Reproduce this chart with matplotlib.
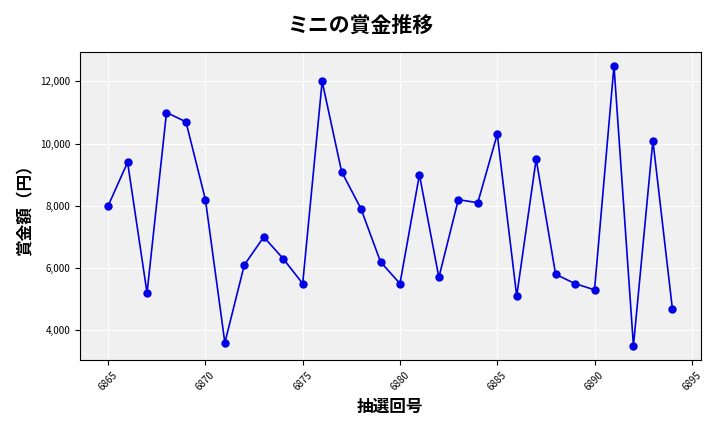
import matplotlib
matplotlib.use("Agg")
import matplotlib.pyplot as plt
from matplotlib.ticker import FuncFormatter

plt.rcParams['font.family'] = ['Noto Sans CJK JP', 'DejaVu Sans']

draws = list(range(6865, 6895))
prizes = [8000, 9400, 5200, 11000, 10700, 8200, 3600, 6100, 7000, 6300,
          5500, 12000, 9100, 7900, 6200, 5500, 9000, 5700, 8200, 8100,
          10300, 5100, 9500, 5800, 5500, 5300, 12500, 3500, 10100, 4700]

fig = plt.figure(figsize=(7.2, 4.32), dpi=100)
ax = fig.add_axes([0.111, 0.167, 0.862, 0.713])
ax.set_facecolor('#f0f0f0')
ax.grid(True, color='white', linewidth=0.8)
ax.set_axisbelow(True)
ax.plot(draws, prizes, color='#0000dd', linewidth=1.2, marker='o', markersize=5, markerfacecolor='#0000ee')
ax.set_xticks(range(6865, 6896, 5))
ax.set_ylim(3050, 12950)
ax.yaxis.set_major_formatter(FuncFormatter(lambda v, p: f'{int(v):,}'))
ax.tick_params(axis='x', labelrotation=45, labelsize=7)
ax.tick_params(axis='y', labelsize=7)
ax.set_xlabel('抽選回号', fontsize=12, fontweight='bold')
ax.set_ylabel('賞金額（円）', fontsize=12, fontweight='bold')
fig.suptitle('ミニの賞金推移', fontsize=15, fontweight='bold', y=0.965)
fig.savefig('out.png', dpi=100)
